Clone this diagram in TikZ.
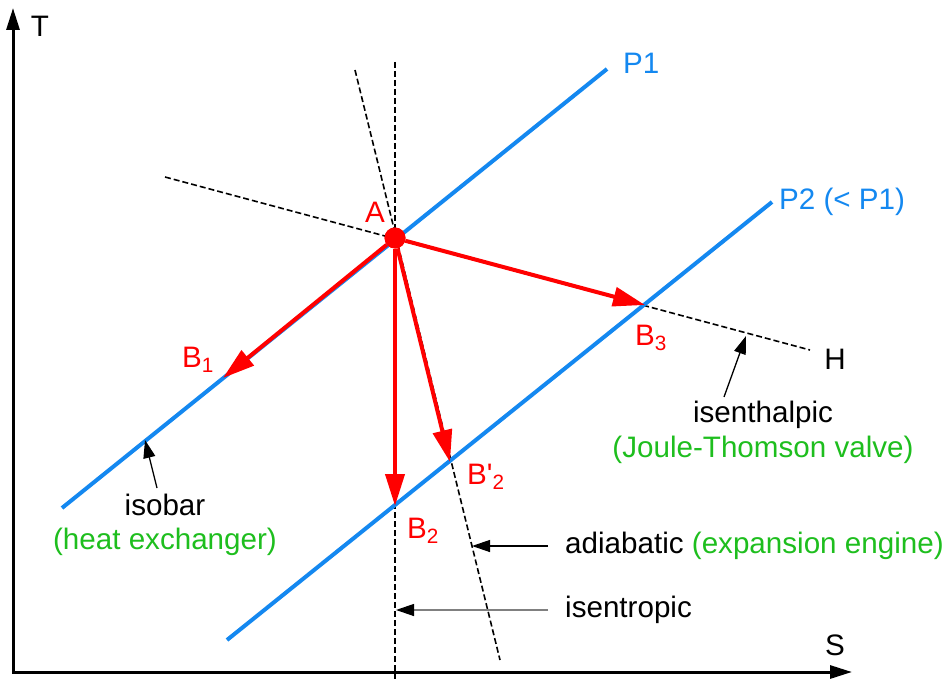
\documentclass[tikz,border=0pt]{standalone}
\usepackage{fontspec}
\setmainfont{Liberation Sans}
\usetikzlibrary{arrows.meta, positioning, calc}
\definecolor{isoblue}{RGB}{20,136,240}
\definecolor{procred}{RGB}{255,0,0}
\definecolor{notegreen}{RGB}{30,190,30}
\tikzset{%
   % axes share one path so the corner is closed
   axis/.style={
      line width=3pt,
      {Triangle[length=22pt,width=13pt]}-{Triangle[length=22pt,width=13pt]}
   },
   isoline/.style={
      isoblue,
      line width=4pt
   },
   guide/.style={
      line width=1.6pt,
      dash pattern=on 6pt off 3pt
   },
   process/.style={
      procred,
      line width=4pt,
      -{Triangle[length=32pt,width=19pt]}
   },
   note/.style={
      line width=1.3pt,
      -{Triangle[length=18pt,width=12pt,color=black]}
   },
   lbl/.style={
      inner sep=0pt,
      font=\fontsize{29.6}{35}\selectfont
   },
   dot/.style={
      circle,
      inner sep=0pt,
      minimum size=21pt,
      fill=procred
   },
}

\begin{document}
\begin{tikzpicture}[x=1pt, y=-1pt]
   \useasboundingbox (0,0) rectangle (952,679);

   % axes
   \coordinate (O) at (13,672);
   \coordinate (Tend) at (13,8);
   \coordinate (Send) at (852,672);
   \draw[axis] (Tend) -- (O) -- (Send);
   \node[lbl] (T) at (40,26) {T};
   \node[lbl] (S) at (835,645) {S};

   % construction lines through A
   \coordinate (vtop) at (395,62);
   \coordinate (vbot) at (395,679);
   \coordinate (atop) at (355,70);
   \coordinate (abot) at (500,660);
   \coordinate (hl) at (165,177);
   \coordinate (hr) at (810,350);
   \draw[guide] (vtop) -- (vbot);
   \draw[guide] (atop) -- (abot);
   \draw[guide] (hl) -- (hr);
   \node[lbl] (H) at (835,359) {H};

   % isobars
   \coordinate (p1s) at (62,508);
   \coordinate (p1e) at (607,69);
   \coordinate (p2s) at (227,640);
   \coordinate (p2e) at (772,202);
   \draw[isoline] (p1s) -- (p1e);
   \draw[isoline] (p2s) -- (p2e);
   \node[lbl, isoblue, anchor=west] (P1) at (623,63) {P1};
   \node[lbl, isoblue, anchor=west] (P2) at (779,202) {P2 (< P1)};

   % state points
   \node[dot] (A) at (395,238) {};
   \node[lbl, procred] (Alab) at (375,212) {A};
   \coordinate (B1) at (223,378);
   \coordinate (B2) at (395,506);
   \coordinate (B2p) at (450,462);
   \coordinate (B3) at (645,305);
   \draw[process] (A) -- (B1);
   \draw[process] (A) -- (B2);
   \draw[process] (A) -- (B2p);
   \draw[process] (A) -- (B3);
   \node[dot] at (A) {};
   \node[lbl, procred, anchor=base west] (B1lab) at (182,367) {B\textsubscript{1}};
   \node[lbl, procred, anchor=base west] (B2lab) at (407,538) {B\textsubscript{2}};
   \node[lbl, procred, anchor=base west] (B2plab) at (467,484) {B\textquotesingle\textsubscript{2}};
   \node[lbl, procred, anchor=base west] (B3lab) at (635,345) {B\textsubscript{3}};

   % annotations
   \node[lbl] (isobar) at (165,505) {isobar};
   \node[lbl, notegreen] (hx) at (165,542) {(heat exchanger)};
   \coordinate (isobarfrom) at (157,488);
   \coordinate (isobarto) at (145,440);
   \draw[note] (isobarfrom) -- (isobarto);

   \node[lbl] (isenth) at (763,415) {isenthalpic};
   \node[lbl, notegreen] (jt) at (763,450) {(Joule-Thomson valve)};
   \coordinate (isenthfrom) at (724,397);
   \coordinate (isenthto) at (746,336);
   \draw[note] (isenthfrom) -- (isenthto);

   \node[lbl, anchor=west] (adiab) at (565,546)
      {adiabatic {\color{notegreen}(expansion engine)}};
   \coordinate (adiabfrom) at (548,546);
   \coordinate (adiabto) at (472,546);
   \draw[note] (adiabfrom) -- (adiabto);

   \node[lbl, anchor=west] (isentr) at (565,610) {isentropic};
   \coordinate (isentrfrom) at (548,610);
   \coordinate (isentrto) at (396,610);
   \draw[note, draw=gray] (isentrfrom) -- (isentrto);
\end{tikzpicture}
\end{document}
